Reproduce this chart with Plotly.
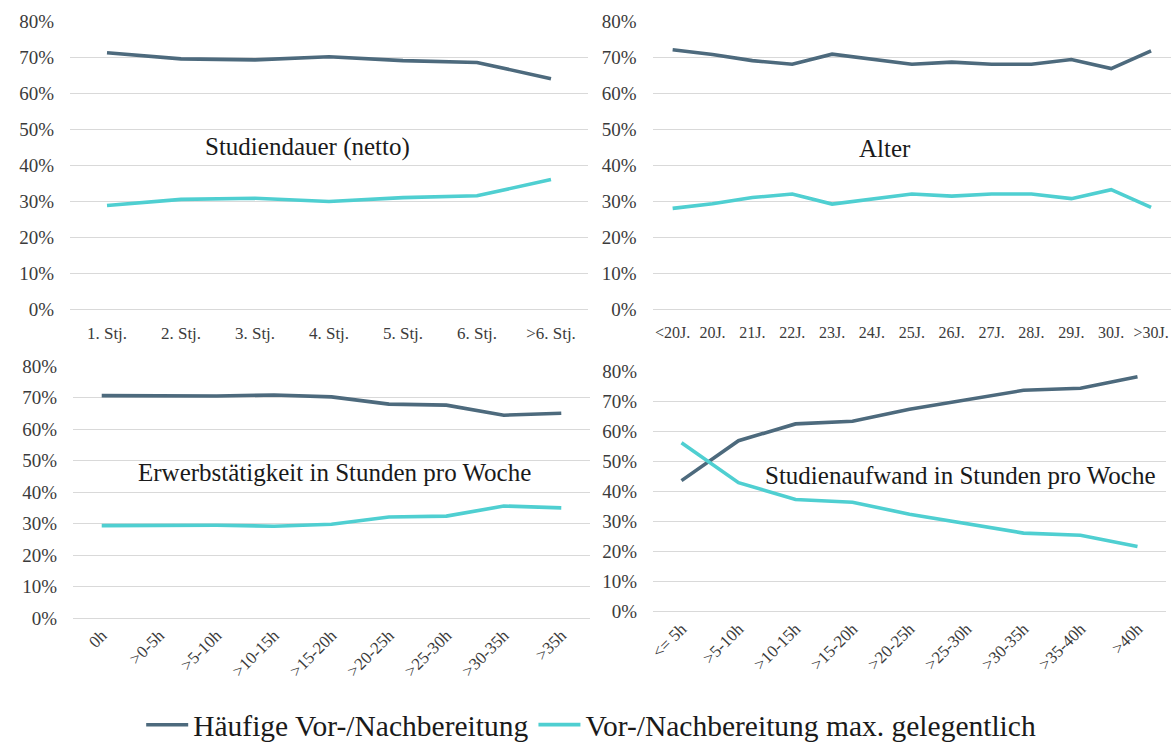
import plotly.graph_objects as go

W, H = 1173, 744

# ---- data ----
series_names = ["Häufige Vor-/Nachbereitung", "Vor-/Nachbereitung max. gelegentlich"]

dauer_cats = ["1. Stj.", "2. Stj.", "3. Stj.", "4. Stj.", "5. Stj.", "6. Stj.", ">6. Stj."]
dauer_haeufig = [0.712, 0.695, 0.692, 0.701, 0.690, 0.685, 0.640]
dauer_gelegentlich = [0.288, 0.305, 0.308, 0.299, 0.310, 0.315, 0.360]

alter_cats = ["<20J.", "20J.", "21J.", "22J.", "23J.", "24J.", "25J.", "26J.", "27J.",
              "28J.", "29J.", "30J.", ">30J."]
alter_haeufig = [0.720, 0.707, 0.690, 0.680, 0.708, 0.695, 0.680, 0.686, 0.680,
                 0.680, 0.693, 0.668, 0.717]
alter_gelegentlich = [0.280, 0.293, 0.310, 0.320, 0.292, 0.305, 0.320, 0.314, 0.320,
                      0.320, 0.307, 0.332, 0.283]

erwerb_cats = ["0h", ">0-5h", ">5-10h", ">10-15h", ">15-20h", ">20-25h", ">25-30h",
               ">30-35h", ">35h"]
erwerb_haeufig = [0.706, 0.705, 0.705, 0.708, 0.702, 0.679, 0.676, 0.644, 0.650]
erwerb_gelegentlich = [0.294, 0.295, 0.295, 0.292, 0.298, 0.321, 0.324, 0.356, 0.350]

aufwand_cats = ["<= 5h", ">5-10h", ">10-15h", ">15-20h", ">20-25h", ">25-30h",
                ">30-35h", ">35-40h", ">40h"]
aufwand_haeufig = [0.437, 0.570, 0.626, 0.635, 0.675, 0.708, 0.738, 0.745, 0.783]
aufwand_gelegentlich = [0.563, 0.430, 0.374, 0.365, 0.325, 0.292, 0.262, 0.255, 0.217]

panel_titles = ["Studiendauer (netto)", "Alter",
                "Erwerbstätigkeit in Stunden pro Woche",
                "Studienaufwand in Stunden pro Woche"]

# ---- style ----
FONT = "Liberation Serif"
TXT = "#3b3b3b"
C_DARK = "#4D6A7D"
C_LIGHT = "#4FCFD1"
GRID = "#d9d9d9"
LW = 3.6

panels = [
    dict(cats=dauer_cats, a=dauer_haeufig, b=dauer_gelegentlich, xfs=17,
         xd=(70, 588), yd=(309.3, 21.0), rot=0, title=(307, 147)),
    dict(cats=alter_cats, a=alter_haeufig, b=alter_gelegentlich, xfs=16,
         xd=(652.7, 1171), yd=(309.3, 21.0), rot=0, title=(885, 148)),
    dict(cats=erwerb_cats, a=erwerb_haeufig, b=erwerb_gelegentlich, xfs=17,
         xd=(73, 590), yd=(618.3, 366.0), rot=-45, title=(334.5, 472.7)),
    dict(cats=aufwand_cats, a=aufwand_haeufig, b=aufwand_gelegentlich, xfs=17,
         xd=(653, 1166), yd=(611.7, 371.7), rot=-45, title=(960, 475)),
]

fig = go.Figure()
annotations = []
for i, p in enumerate(panels):
    k = "" if i == 0 else str(i + 1)
    xa, ya = "x" + k, "y" + k
    for vals, color, name in ((p["a"], C_DARK, series_names[0]),
                              (p["b"], C_LIGHT, series_names[1])):
        fig.add_trace(go.Scatter(
            x=p["cats"], y=vals, mode="lines", name=name, legendgroup=name,
            showlegend=(i == 0), line=dict(color=color, width=LW),
            xaxis=xa, yaxis=ya, hoverinfo="skip"))
    n = len(p["cats"])
    fig.layout["xaxis" + k] = dict(
        domain=[p["xd"][0] / W, p["xd"][1] / W], anchor=ya, type="category",
        range=[-0.5, n - 0.5], showgrid=False, showline=False, zeroline=False,
        automargin=False,
        ticks="", tickangle=p["rot"], ticklabelstandoff=(12 if p["rot"] == 0 else 3),
        tickfont=dict(family=FONT, size=p["xfs"], color=TXT), fixedrange=True)
    fig.layout["yaxis" + k] = dict(
        domain=[1 - p["yd"][0] / H, 1 - p["yd"][1] / H], anchor=xa,
        range=[0, 0.8], dtick=0.1, tick0=0, tickformat=".0%",
        showgrid=True, gridcolor=GRID, gridwidth=1,
        zeroline=True, zerolinecolor=GRID, zerolinewidth=1, automargin=False,
        showline=False, ticks="", ticklabelstandoff=15,
        tickfont=dict(family=FONT, size=19, color=TXT), fixedrange=True)
    annotations.append(dict(
        text=panel_titles[i], xref="paper", yref="paper",
        x=p["title"][0] / W, y=1 - p["title"][1] / H,
        xanchor="center", yanchor="middle", showarrow=False,
        font=dict(family=FONT, size=25, color="#1a1a1a")))

fig.update_layout(
    width=W, height=H, margin=dict(l=0, r=0, t=0, b=0, autoexpand=False),
    paper_bgcolor="white", plot_bgcolor="white",
    annotations=annotations,
    legend=dict(orientation="h", x=0.504, xanchor="center", y=1 - 725 / H,
                yanchor="middle", font=dict(family=FONT, size=29.5, color="#1a1a1a"),
                itemwidth=42, tracegroupgap=0, bgcolor="rgba(0,0,0,0)"),
)

fig.write_html(
    "out.html",
    config={"displayModeBar": False, "staticPlot": True},
    post_script="document.body.style.margin='0';document.body.style.overflow='hidden';",
)
